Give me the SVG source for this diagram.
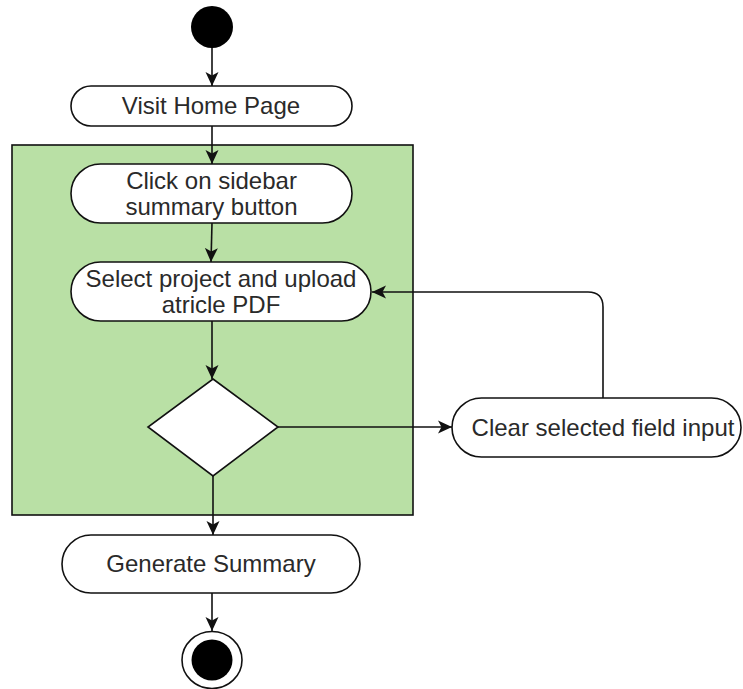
<svg xmlns="http://www.w3.org/2000/svg" width="743" height="689" viewBox="0 0 743 689">
  <style>
    .node { fill: #ffffff; stroke: #111111; stroke-width: 1.6; }
    .lbl { font-family: "Liberation Sans", Arial, sans-serif; font-size: 24px; fill: #2a2a2a; text-anchor: middle; }
    .edge { fill: none; stroke: #111111; stroke-width: 1.6; }
  </style>
  <defs>
    <marker id="arr" markerUnits="userSpaceOnUse" markerWidth="15" markerHeight="15" viewBox="0 0 15 15" refX="14" refY="7.5" orient="auto">
      <path d="M0,1 L14,7.5 L0,14 L3.5,7.5 Z" fill="#111111"/>
    </marker>
  </defs>
  <rect width="743" height="689" fill="#ffffff"/>

  <g id="container">
    <rect x="12" y="145" width="401" height="370" fill="#b9e0a5" stroke="#111111" stroke-width="1.6"/>
  </g>

  <g id="start">
    <circle cx="212" cy="27" r="21" fill="#000000"/>
  </g>

  <g id="visit-home">
    <rect class="node" x="71" y="86" width="281" height="40" rx="20" ry="20"/>
    <text class="lbl" x="211" y="114">Visit Home Page</text>
  </g>

  <g id="click-sidebar">
    <rect class="node" x="71" y="164" width="281" height="59" rx="29.5" ry="29.5"/>
    <text class="lbl" x="211.5" y="189">Click on sidebar</text>
    <text class="lbl" x="211.5" y="215">summary button</text>
  </g>

  <g id="select-project">
    <rect class="node" x="71" y="262" width="300" height="59" rx="29.5" ry="29.5"/>
    <text class="lbl" x="221" y="287">Select project and upload</text>
    <text class="lbl" x="221" y="313">atricle PDF</text>
  </g>

  <g id="decision">
    <polygon class="node" points="213,379 278,427 213,476 148,427"/>
  </g>

  <g id="clear-input">
    <rect class="node" x="452" y="398" width="289" height="59" rx="29.5" ry="29.5"/>
    <text class="lbl" x="603" y="436">Clear selected field input</text>
  </g>

  <g id="generate-summary">
    <rect class="node" x="62" y="535" width="298" height="58" rx="29" ry="29"/>
    <text class="lbl" x="211" y="572">Generate Summary</text>
  </g>

  <g id="end">
    <ellipse cx="212" cy="660" rx="30" ry="28.5" fill="#ffffff" stroke="#111111" stroke-width="1.6"/>
    <circle cx="212" cy="660" r="20.5" fill="#000000"/>
  </g>

  <g id="connectors">
    <path class="edge" d="M212,48 L212,86" marker-end="url(#arr)"/>
    <path class="edge" d="M212,126 L212,164" marker-end="url(#arr)"/>
    <path class="edge" d="M212,223 L211,262" marker-end="url(#arr)"/>
    <path class="edge" d="M212,321 L212,379" marker-end="url(#arr)"/>
    <path class="edge" d="M278,427 L452,427" marker-end="url(#arr)"/>
    <path class="edge" d="M603,398 L603,307 Q603,292 588,292 L372,292" marker-end="url(#arr)"/>
    <path class="edge" d="M213,476 L213,535" marker-end="url(#arr)"/>
    <path class="edge" d="M212,593 L212,631" marker-end="url(#arr)"/>
  </g>
</svg>
